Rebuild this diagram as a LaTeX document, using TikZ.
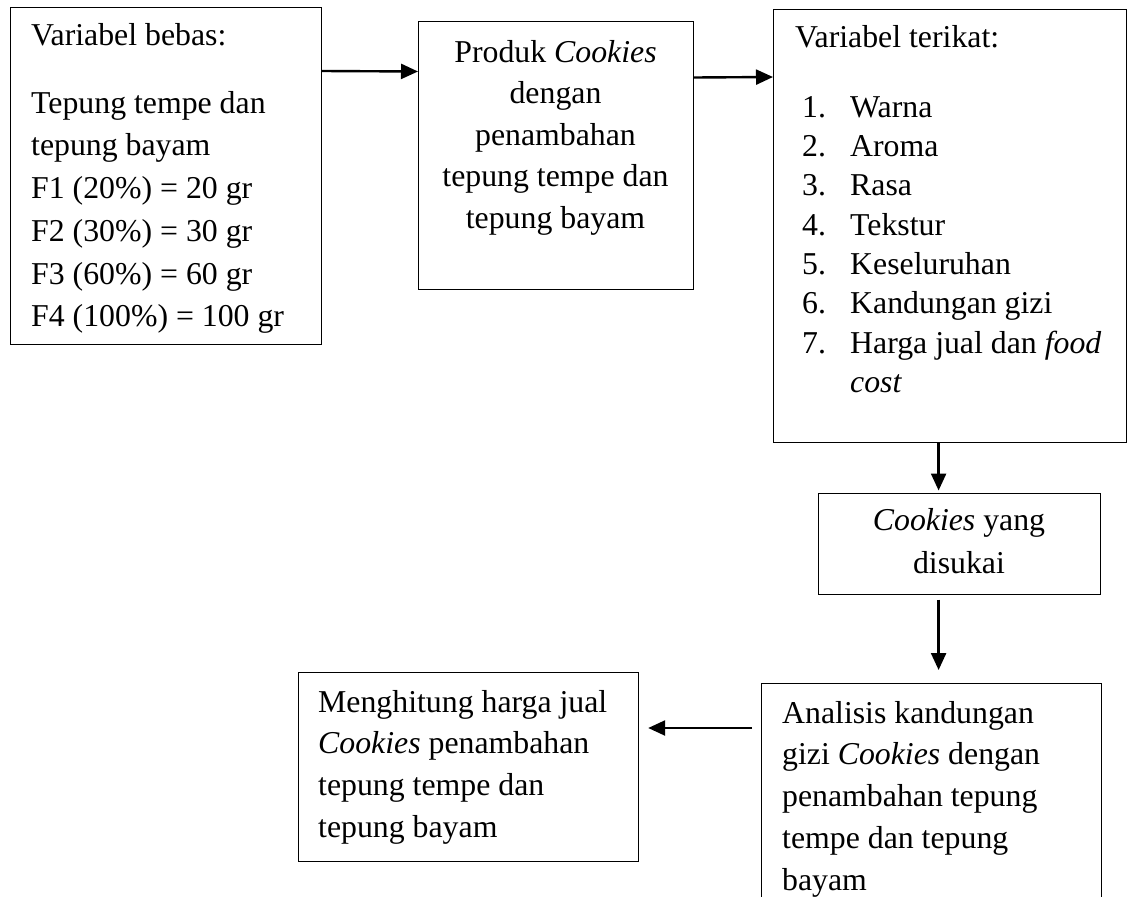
\documentclass[tikz,border=0pt]{standalone}
\usepackage{fontspec}
\setmainfont{Liberation Serif}
\usetikzlibrary{arrows.meta}
\begin{document}
\begin{tikzpicture}[x=1pt,y=1pt,
    box/.style={draw,line width=1.2pt,anchor=north west,inner sep=0pt},
    txt/.style={inner sep=0pt,font=\fontsize{31.8}{#1}\selectfont},
    arrow/.style={line width=2.4pt,-{Triangle[length=17pt,width=15pt]}}]
      \useasboundingbox (0,0) rectangle (1128,-897);%
      \clip (0,0) rectangle (1128,-897);%

      \node[box,minimum width=311pt,minimum height=337pt] (bebas) at (10,-7) {};%
      \node[box,minimum width=275pt,minimum height=268pt] (produk) at (418,-20.5) {};%
      \node[box,minimum width=353pt,minimum height=432.5pt] (terikat) at (773,-9) {};%
      \node[box,minimum width=282pt,minimum height=101pt] (disukai) at (818,-492.5) {};%
      \node[box,minimum width=339.5pt,minimum height=300pt] (analisis) at (761,-683) {};%
      \node[box,minimum width=340pt,minimum height=189pt] (hitung) at (298,-672) {};%

      \node[txt=42.8,anchor=base west] (bebasisi) at (31,-45) {\begin{tabular}[t]{@{}l@{}}Variabel bebas:\\[25.2pt] Tepung tempe dan\\ tepung bayam\\ F1 (20\%) = 20 gr\\ F2 (30\%) = 30 gr\\ F3 (60\%) = 60 gr\\ F4 (100\%) = 100 gr\end{tabular}};%
      \node[txt=41.5,anchor=base] (produkisi) at (555.5,-62) {\begin{tabular}[t]{@{}c@{}}Produk \textit{Cookies}\\ dengan\\ penambahan\\ tepung tempe dan\\ tepung bayam\end{tabular}};%
      \node[txt=39.4,anchor=base west] (terikatisi) at (795,-47) {\begin{tabular}[t]{@{}l@{}}Variabel terikat:\\[30.6pt] \hspace{7pt}\makebox[48pt][l]{1.}Warna\\ \hspace{7pt}\makebox[48pt][l]{2.}Aroma\\ \hspace{7pt}\makebox[48pt][l]{3.}Rasa\\ \hspace{7pt}\makebox[48pt][l]{4.}Tekstur\\ \hspace{7pt}\makebox[48pt][l]{5.}Keseluruhan\\ \hspace{7pt}\makebox[48pt][l]{6.}Kandungan gizi\\ \hspace{7pt}\makebox[48pt][l]{7.}Harga jual dan \textit{food}\\ \hspace{55pt}\textit{cost}\end{tabular}};%
      \node[txt=43,anchor=base] (disukaiisi) at (959,-530) {\begin{tabular}[t]{@{}c@{}}\textit{Cookies} yang\\ disukai\end{tabular}};%
      \node[txt=41.75,anchor=base west] (analisisisi) at (782,-723) {\begin{tabular}[t]{@{}l@{}}Analisis kandungan\\ gizi \textit{Cookies} dengan\\ penambahan tepung\\ tempe dan tepung\\ bayam\end{tabular}};%
      \node[txt=41.7,anchor=base west] (hitungisi) at (318,-712) {\begin{tabular}[t]{@{}l@{}}Menghitung harga jual\\ \textit{Cookies} penambahan\\ tepung tempe dan\\ tepung bayam\end{tabular}};%

      \draw[arrow] ([yshift=-64pt]bebas.north east) -- ([yshift=-51pt]produk.north west);%
      \draw[arrow] ([yshift=-57pt]produk.north east) -- ([yshift=-68pt]terikat.north west);%
      \draw[arrow] ([xshift=-11.5pt]terikat.south) -- ([xshift=-21pt,yshift=2pt]disukai.north);%
      \draw[arrow] ([xshift=-21pt,yshift=-5pt]disukai.south) -- ([xshift=7.25pt,yshift=13pt]analisis.north);%
      \draw[arrow] ([xshift=-9pt,yshift=-45pt]analisis.north west) -- ([xshift=9pt,yshift=-56pt]hitung.north east);%
    \end{tikzpicture}
\end{document}
